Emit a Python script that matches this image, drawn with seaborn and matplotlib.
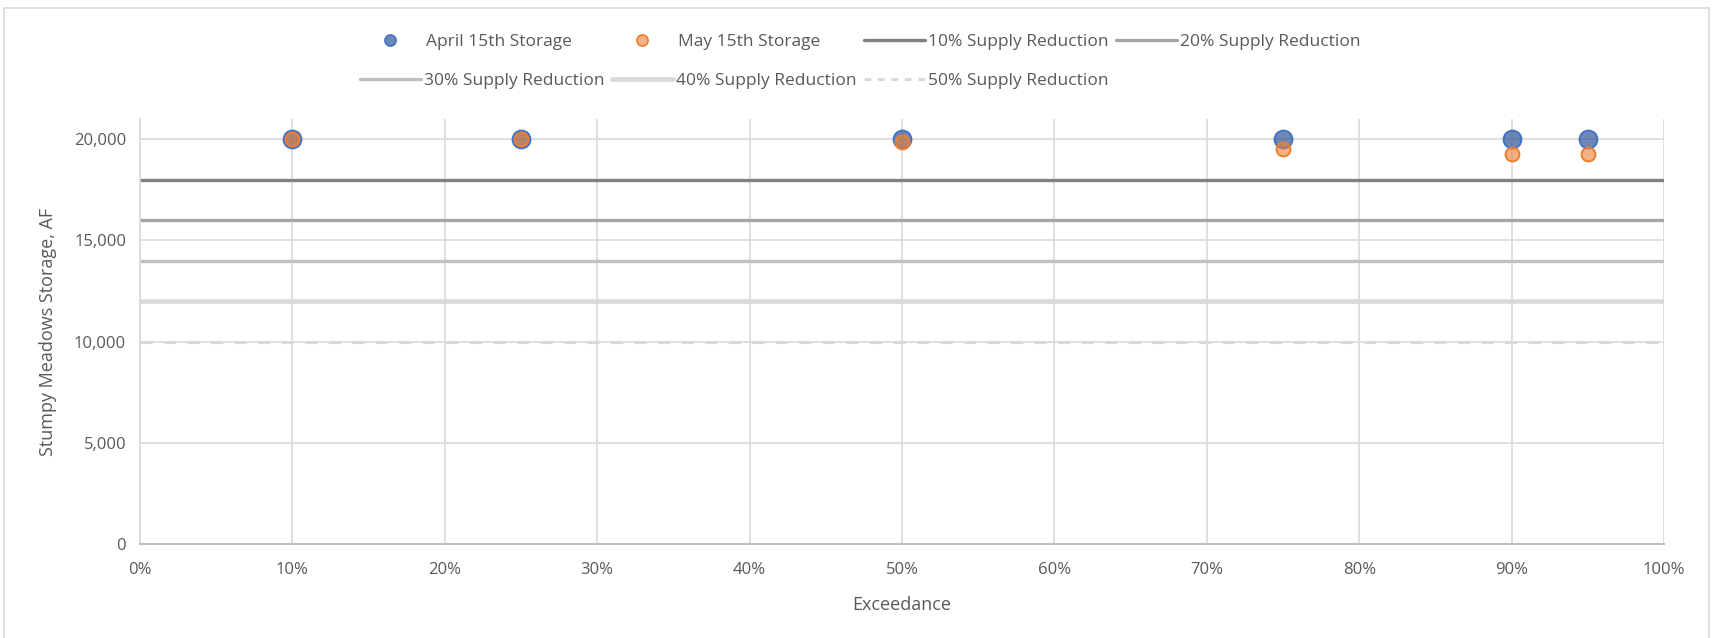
import matplotlib
matplotlib.use("Agg")
import matplotlib.pyplot as plt
from matplotlib.patches import Rectangle
from matplotlib.ticker import FuncFormatter, MultipleLocator
from matplotlib.lines import Line2D
import seaborn as sns
import pandas as pd

# Exceedance probabilities (%) and storage (AF)
exceedance = [10, 25, 50, 75, 90, 95]
april_storage = [20000, 20000, 20000, 20000, 20000, 20000]
may_storage = [20000, 20000, 19870, 19500, 19270, 19270]

# Supply-reduction thresholds (AF)
reduction_labels = ["10% Supply Reduction", "20% Supply Reduction", "30% Supply Reduction",
                    "40% Supply Reduction", "50% Supply Reduction"]
reduction_levels = [18000, 16000, 14000, 12000, 10000]
reduction_colors = ["#808080", "#a5a5a5", "#bfbfbf", "#d9d9d9", "#d9d9d9"]
reduction_widths = [2.4, 2.4, 2.4, 3.4, 2.2]
reduction_dashed = [False, False, False, False, True]

x_range = [0, 100]

APRIL_FACE = (0x2f / 255, 0x55 / 255, 0x97 / 255, 0.7)
APRIL_EDGE = "#4472c4"
MAY_FACE = (0xed / 255, 0x7d / 255, 0x31 / 255, 0.6)
MAY_EDGE = "#ed7d31"

sns.set_theme(style="white")
plt.rcParams["font.family"] = ["Open Sans", "DejaVu Sans"]

W, H = 1712, 638
fig = plt.figure(figsize=(W / 100, H / 100), dpi=100)
ax = fig.add_axes([140 / W, 1 - 544 / H, (1664 - 140) / W, (544 - 119) / H])

# outer chart frame
fig.patches.append(Rectangle((4 / W, -0.05), (1709 - 4) / W, 1.05 - 8 / H,
                             transform=fig.transFigure, fill=False,
                             edgecolor="#d9d9d9", linewidth=1.2))

# threshold lines
line_handles = []
for lab, lvl, col, lw, dashed in zip(reduction_labels, reduction_levels, reduction_colors,
                                     reduction_widths, reduction_dashed):
    df = pd.DataFrame({"x": x_range, "y": [lvl, lvl]})
    sns.lineplot(data=df, x="x", y="y", ax=ax, color=col, linewidth=lw, zorder=2)
    ln = ax.lines[-1]
    ln.set_solid_capstyle("butt")
    h = Line2D([], [], color=col, linewidth=lw)
    if dashed:
        ln.set_dashes((4, 3.7))
        h.set_dashes((2.2, 2.2))
    line_handles.append(h)

pts = pd.DataFrame({"x": exceedance, "april": april_storage, "may": may_storage})
sns.scatterplot(data=pts, x="x", y="april", ax=ax, s=165, color=APRIL_FACE,
                edgecolor=APRIL_EDGE, linewidth=1.4, zorder=4)
sns.scatterplot(data=pts, x="x", y="may", ax=ax, s=100, color=MAY_FACE,
                edgecolor=MAY_EDGE, linewidth=1.4, zorder=5)

ax.set_xlim(0, 100)
ax.set_ylim(0, 21000)
ax.xaxis.set_major_locator(MultipleLocator(10))
ax.yaxis.set_major_locator(MultipleLocator(5000))
ax.xaxis.set_major_formatter(FuncFormatter(lambda v, p: f"{v:.0f}%"))
ax.yaxis.set_major_formatter(FuncFormatter(lambda v, p: f"{v:,.0f}"))
ax.grid(True, color="#d9d9d9", linewidth=1.2, zorder=0)
ax.set_axisbelow(True)
for s in ["top", "right"]:
    ax.spines[s].set_visible(False)
ax.spines["left"].set_color("#d9d9d9")
ax.spines["left"].set_linewidth(1.2)
ax.spines["bottom"].set_color("#bfbfbf")
ax.spines["bottom"].set_linewidth(1.5)
ax.tick_params(axis="y", labelsize=12, colors="#595959", length=0, pad=10)
ax.tick_params(axis="x", labelsize=12, colors="#595959", length=0, pad=13)
ax.set_xlabel("Exceedance", fontsize=13, color="#595959", labelpad=13)
ax.set_ylabel("Stumpy Meadows Storage, AF", fontsize=13, color="#595959", labelpad=12)

# legend laid out on a fixed grid: 4 columns, 2 rows
marker_h = [
    Line2D([], [], linestyle="none", marker="o", markersize=8, markerfacecolor=APRIL_FACE,
           markeredgecolor=APRIL_EDGE, markeredgewidth=1.2),
    Line2D([], [], linestyle="none", marker="o", markersize=8, markerfacecolor=MAY_FACE,
           markeredgecolor=MAY_EDGE, markeredgewidth=1.2),
]
handles = marker_h + line_handles
labels = ["April 15th Storage", "May 15th Storage"] + reduction_labels
col_x0, col_pitch = 360, 252
row_y = [42, 81]
for i, (h, lab) in enumerate(zip(handles, labels)):
    r, c = divmod(i, 4)
    pad = 0.3 if i < 2 else 0.2
    fig.legend([h], [lab], loc="center left",
               bbox_to_anchor=((col_x0 + c * col_pitch) / W, 1 - row_y[r] / H),
               frameon=False, fontsize=12.5, handlelength=3.5, handletextpad=pad,
               labelcolor="#595959", borderaxespad=0, borderpad=0)

fig.savefig("out.png", dpi=100)
